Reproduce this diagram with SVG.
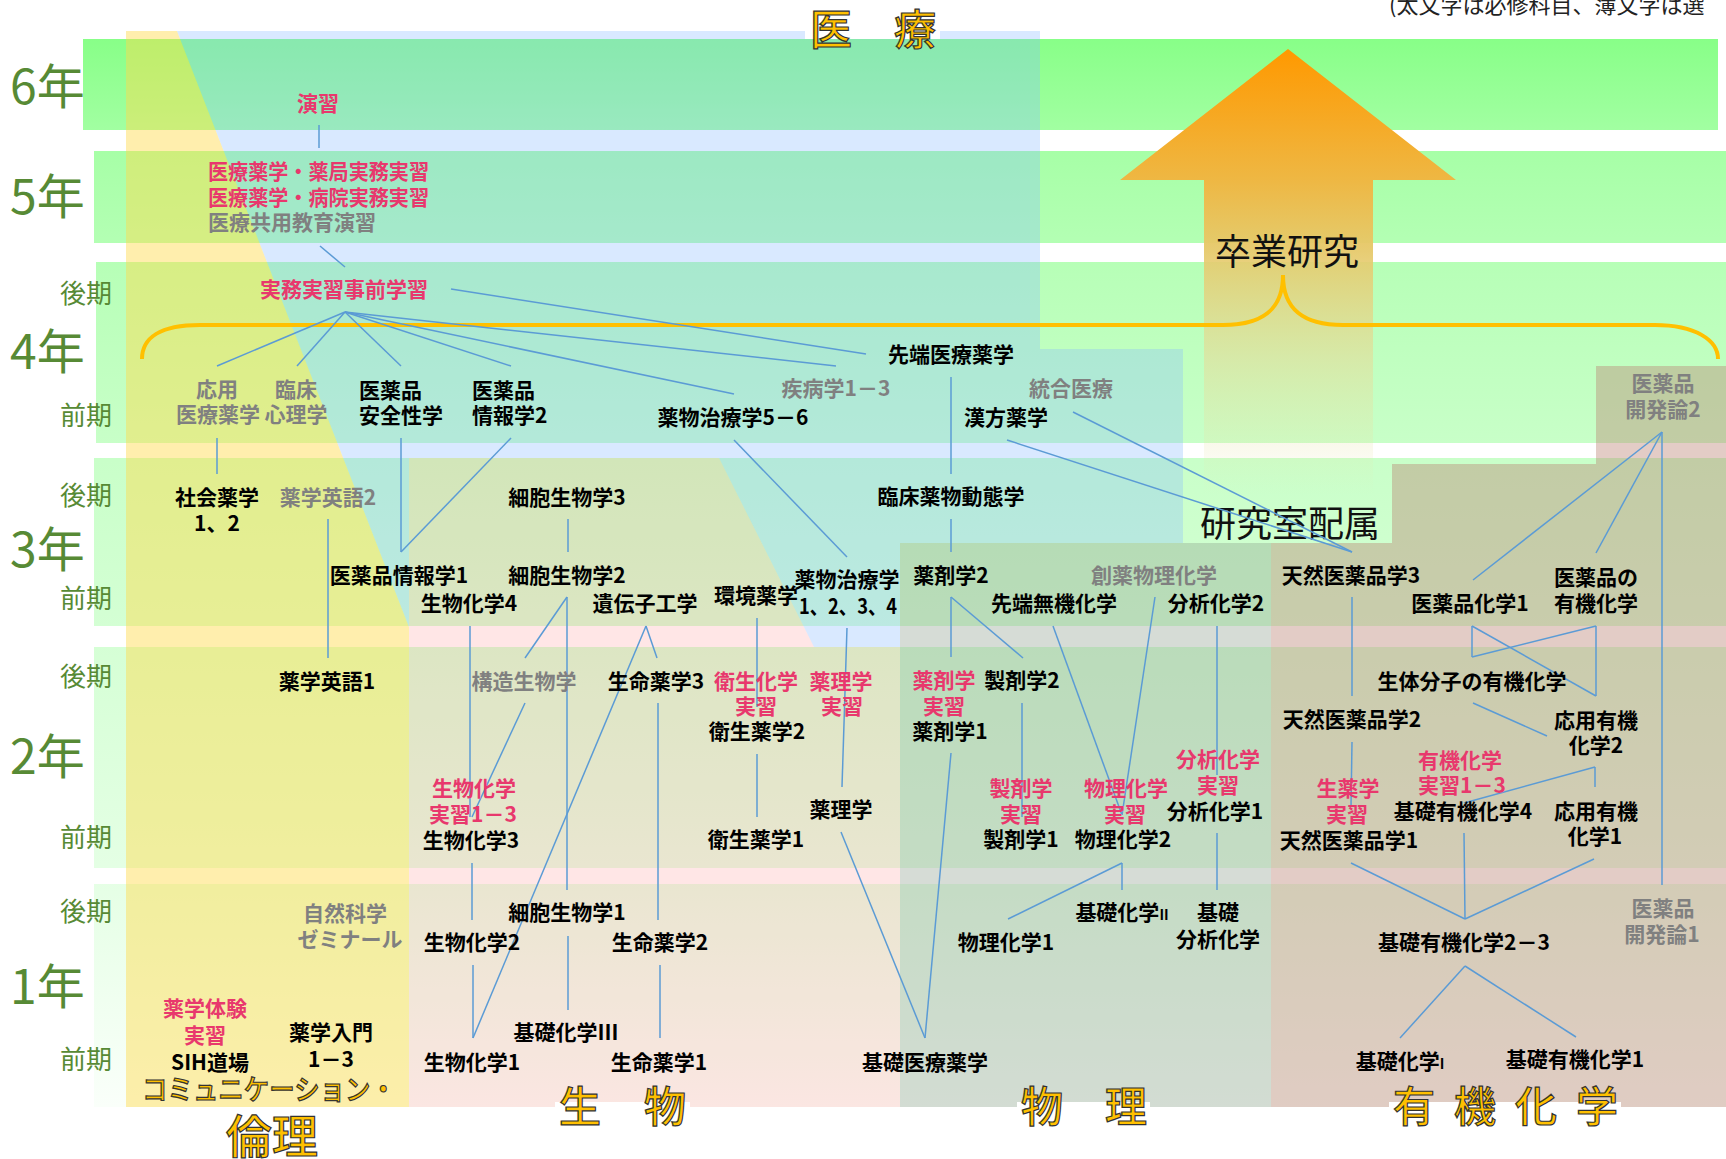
<svg xmlns="http://www.w3.org/2000/svg" width="1726" height="1159" viewBox="0 0 1726 1159">
<defs>
<linearGradient id="band" gradientUnits="userSpaceOnUse" x1="0" y1="39" x2="0" y2="1107">
<stop offset="0" stop-color="#88FF88"/>
<stop offset="0.1" stop-color="#A6FFA6"/>
<stop offset="0.22" stop-color="#B8FFB8"/>
<stop offset="0.38" stop-color="#C8FFC8"/>
<stop offset="0.58" stop-color="#D6FFD6"/>
<stop offset="0.8" stop-color="#E6FFE6"/>
<stop offset="1" stop-color="#FAFFFA"/>
</linearGradient>
<linearGradient id="arrow" gradientUnits="userSpaceOnUse" x1="0" y1="49" x2="0" y2="495">
<stop offset="0" stop-color="#FF9900"/>
<stop offset="0.3" stop-color="#EEB845"/>
<stop offset="0.45" stop-color="#E6C96A" stop-opacity="0.95"/>
<stop offset="0.7" stop-color="#E5DC9A" stop-opacity="0.6"/>
<stop offset="1" stop-color="#E8E8B0" stop-opacity="0"/>
</linearGradient>
<style>
.t{font-family:'Noto Sans CJK JP','Noto Sans CJK SC',sans-serif;font-weight:700;font-size:21px;text-anchor:middle}
.k{fill:#000}
.g{fill:#808080}
.p{fill:#E8386D}
.s{text-anchor:start}
.yr{font-family:'Noto Sans CJK JP','Noto Sans CJK SC',sans-serif;font-size:48px;fill:#578A35}
.tm{font-family:'Noto Sans CJK JP','Noto Sans CJK SC',sans-serif;font-size:26px;fill:#578A35}
.ttl{font-family:'Noto Sans CJK JP','Noto Sans CJK SC',sans-serif;font-weight:500;fill:#FFC000;stroke:#333;stroke-width:1.2}
.big{font-family:'Noto Sans CJK JP','Noto Sans CJK SC',sans-serif;font-size:36px;fill:#111}
#connectors line{stroke:#5B9BD5;stroke-width:1.5}
</style>
</defs>
<rect width="1726" height="1159" fill="#FFFFFF"/>
<g id="bands" fill="url(#band)">
<rect x="83" y="39" width="1635" height="91"/>
<rect x="94" y="151" width="1632" height="92"/>
<rect x="96" y="262" width="1630" height="181"/>
<rect x="94" y="458" width="1632" height="168"/>
<rect x="94" y="647" width="1632" height="221"/>
<rect x="94" y="884" width="1632" height="223"/>
</g>
<g id="regions">
<polygon points="126,31 177,31 409,627 409,1107 126,1107" fill="#FFDA4A" fill-opacity="0.45"/>
<polygon points="177,31 1040,31 1040,349 1183,349 1183,543 900,543 900,647 814,647 719,458 409,458 409,627" fill="#88BBFF" fill-opacity="0.32"/>
<polygon points="409,458 719,458 814,647 900,647 900,1107 409,1107" fill="#FF7777" fill-opacity="0.18"/>
<rect x="900" y="543" width="371" height="564" fill="#889988" fill-opacity="0.34"/>
<polygon points="1596,366 1726,366 1726,1107 1271,1107 1271,543 1392,543 1392,464 1596,464" fill="#B88070" fill-opacity="0.4"/>
</g>
<polygon id="arrow-shape" points="1288,49 1456,180 1373,180 1373,495 1204,495 1204,180 1120,180" fill="url(#arrow)"/>
<path id="brace" d="M142,359 C142,338 160,325 200,325 L1223,325 C1262,325 1283,310 1283,275 C1283,310 1304,325 1343,325 L1655,325 C1695,325 1718,340 1718,359" fill="none" stroke="#FFC000" stroke-width="4"/>
<g id="title-bg" fill="#FFFFFF">
<rect x="805" y="28" width="135" height="11"/>
<rect x="555" y="1102" width="135" height="57"/>
<rect x="1017" y="1102" width="133" height="57"/>
<rect x="1389" y="1102" width="232" height="57"/>
</g>
<g id="titles">
<text class="ttl" x="810" y="45" font-size="42" textLength="126" lengthAdjust="spacing">医　療</text>
<text class="ttl" x="559" y="1122" font-size="42" textLength="127" lengthAdjust="spacing">生　物</text>
<text class="ttl" x="1021" y="1122" font-size="42" textLength="126" lengthAdjust="spacing">物　理</text>
<text class="ttl" x="1393" y="1122" font-size="42" textLength="225" lengthAdjust="spacing">有 機 化 学</text>
<text class="ttl" x="142" y="1100" font-size="28" textLength="254" lengthAdjust="spacingAndGlyphs">コミュニケーション・</text>
<text class="ttl" x="226" y="1153" font-size="46" textLength="92" lengthAdjust="spacing">倫理</text>
</g>
<text id="note" x="1389" y="13" font-family="'Noto Sans CJK JP','Noto Sans CJK SC',sans-serif" font-size="22" fill="#222">(太文字は必修科目、薄文字は選</text>
<g id="years">
<text class="yr" x="10" y="104">6年</text>
<text class="yr" x="10" y="214">5年</text>
<text class="yr" x="10" y="369">4年</text>
<text class="yr" x="10" y="567">3年</text>
<text class="yr" x="10" y="774">2年</text>
<text class="yr" x="10" y="1004">1年</text>
<text class="tm" x="60" y="303">後期</text>
<text class="tm" x="60" y="425">前期</text>
<text class="tm" x="60" y="505">後期</text>
<text class="tm" x="60" y="608">前期</text>
<text class="tm" x="60" y="686">後期</text>
<text class="tm" x="60" y="847">前期</text>
<text class="tm" x="60" y="921">後期</text>
<text class="tm" x="60" y="1069">前期</text>
</g>
<text id="sotsuken" class="big" x="1287" y="265" text-anchor="middle">卒業研究</text>
<text id="haizoku" class="big" x="1290" y="537" text-anchor="middle">研究室配属</text>
<g id="connectors">
<line x1="319" y1="125" x2="319" y2="148"/>
<line x1="320" y1="246" x2="345" y2="267"/>
<line x1="345" y1="312" x2="217" y2="366"/>
<line x1="345" y1="312" x2="297" y2="366"/>
<line x1="345" y1="312" x2="401" y2="366"/>
<line x1="345" y1="312" x2="511" y2="366"/>
<line x1="345" y1="312" x2="734" y2="394"/>
<line x1="345" y1="312" x2="836" y2="366"/>
<line x1="451" y1="289" x2="866" y2="354"/>
<line x1="217" y1="438" x2="217" y2="474"/>
<line x1="328" y1="519" x2="328" y2="658"/>
<line x1="401" y1="438" x2="401" y2="552"/>
<line x1="511" y1="438" x2="401" y2="552"/>
<line x1="568" y1="519" x2="568" y2="552"/>
<line x1="567" y1="597" x2="525" y2="658"/>
<line x1="567" y1="597" x2="567" y2="890"/>
<line x1="470" y1="626" x2="470" y2="817"/>
<line x1="525" y1="703" x2="472" y2="817"/>
<line x1="646" y1="626" x2="657" y2="658"/>
<line x1="646" y1="626" x2="473" y2="1038"/>
<line x1="658" y1="703" x2="658" y2="920"/>
<line x1="660" y1="965" x2="660" y2="1038"/>
<line x1="472" y1="863" x2="472" y2="920"/>
<line x1="473" y1="965" x2="473" y2="1038"/>
<line x1="568" y1="936" x2="568" y2="1010"/>
<line x1="757" y1="618" x2="757" y2="707"/>
<line x1="757" y1="754" x2="757" y2="817"/>
<line x1="734" y1="440" x2="847" y2="557"/>
<line x1="847" y1="628" x2="842" y2="787"/>
<line x1="841" y1="832" x2="925" y2="1038"/>
<line x1="951" y1="753" x2="925" y2="1038"/>
<line x1="951" y1="377" x2="951" y2="474"/>
<line x1="951" y1="519" x2="951" y2="552"/>
<line x1="951" y1="597" x2="951" y2="657"/>
<line x1="951" y1="597" x2="1023" y2="658"/>
<line x1="1022" y1="703" x2="1022" y2="817"/>
<line x1="1053" y1="626" x2="1122" y2="815"/>
<line x1="1155" y1="597" x2="1122" y2="815"/>
<line x1="1122" y1="863" x2="1008" y2="919"/>
<line x1="1122" y1="863" x2="1122" y2="890"/>
<line x1="1217" y1="626" x2="1217" y2="775"/>
<line x1="1217" y1="833" x2="1217" y2="890"/>
<line x1="1073" y1="412" x2="1352" y2="552"/>
<line x1="1007" y1="440" x2="1352" y2="552"/>
<line x1="1352" y1="597" x2="1352" y2="696"/>
<line x1="1352" y1="742" x2="1351" y2="807"/>
<line x1="1662" y1="432" x2="1473" y2="580"/>
<line x1="1662" y1="432" x2="1596" y2="553"/>
<line x1="1662" y1="432" x2="1662" y2="885"/>
<line x1="1472" y1="626" x2="1472" y2="657"/>
<line x1="1472" y1="626" x2="1596" y2="696"/>
<line x1="1596" y1="626" x2="1596" y2="696"/>
<line x1="1596" y1="626" x2="1472" y2="657"/>
<line x1="1473" y1="703" x2="1547" y2="736"/>
<line x1="1595" y1="767" x2="1464" y2="803"/>
<line x1="1595" y1="767" x2="1595" y2="787"/>
<line x1="1351" y1="863" x2="1465" y2="919"/>
<line x1="1464" y1="833" x2="1465" y2="919"/>
<line x1="1594" y1="859" x2="1465" y2="919"/>
<line x1="1465" y1="966" x2="1400" y2="1038"/>
<line x1="1465" y1="966" x2="1576" y2="1037"/>
</g>
<g id="n-enshu"><text class="t p" x="318" y="111">演習</text></g>
<g id="n-yakkyoku"><text class="t p s" x="208" y="179" textLength="221" lengthAdjust="spacingAndGlyphs">医療薬学・薬局実務実習</text></g>
<g id="n-byouin"><text class="t p s" x="208" y="205" textLength="221" lengthAdjust="spacingAndGlyphs">医療薬学・病院実務実習</text></g>
<g id="n-kyouyou"><text class="t g s" x="208" y="230">医療共用教育演習</text></g>
<g id="n-jizen"><text class="t p" x="344" y="297">実務実習事前学習</text></g>
<g id="n-sentan-iryou"><text class="t k" x="951" y="362">先端医療薬学</text></g>
<g id="n-ouyou-iryou"><text class="t g"><tspan x="217" y="397">応用</tspan><tspan x="218" y="422">医療薬学</tspan></text></g>
<g id="n-rinshou-shinri"><text class="t g"><tspan x="296" y="397">臨床</tspan><tspan x="296" y="422">心理学</tspan></text></g>
<g id="n-anzensei"><text class="t k s"><tspan x="359" y="398">医薬品</tspan><tspan x="359" y="423">安全性学</tspan></text></g>
<g id="n-jouhou2"><text class="t k s"><tspan x="472" y="398">医薬品</tspan><tspan x="472" y="423">情報学2</tspan></text></g>
<g id="n-shippei"><text class="t g" x="836" y="396">疾病学1－3</text></g>
<g id="n-tougou"><text class="t g" x="1071" y="396">統合医療</text></g>
<g id="n-chiryou56"><text class="t k" x="733" y="425">薬物治療学5－6</text></g>
<g id="n-kampo"><text class="t k" x="1006" y="425">漢方薬学</text></g>
<g id="n-shakai"><text class="t k"><tspan x="217" y="505">社会薬学</tspan><tspan x="217" y="531">1、2</tspan></text></g>
<g id="n-eigo2"><text class="t g" x="328" y="505">薬学英語2</text></g>
<g id="n-saibou3"><text class="t k" x="567" y="505">細胞生物学3</text></g>
<g id="n-dotai"><text class="t k" x="951" y="504">臨床薬物動態学</text></g>
<g id="n-jouhou1"><text class="t k" x="399" y="583">医薬品情報学1</text></g>
<g id="n-saibou2"><text class="t k" x="567" y="583">細胞生物学2</text></g>
<g id="n-yakuzai2"><text class="t k" x="951" y="583">薬剤学2</text></g>
<g id="n-souyaku"><text class="t g" x="1154" y="583">創薬物理化学</text></g>
<g id="n-tennen3"><text class="t k" x="1351" y="583">天然医薬品学3</text></g>
<g id="n-iyaku-yuuki"><text class="t k"><tspan x="1596" y="585">医薬品の</tspan><tspan x="1596" y="611">有機化学</tspan></text></g>
<g id="n-chiryou14"><text class="t k"><tspan x="847" y="587">薬物治療学</tspan></text><text class="t k s" x="799" y="614" textLength="98" lengthAdjust="spacingAndGlyphs">1、2、3、4</text></g>
<g id="n-kankyou"><text class="t k" x="756" y="603">環境薬学</text></g>
<g id="n-seika4"><text class="t k" x="469" y="611">生物化学4</text></g>
<g id="n-idenshi"><text class="t k" x="645" y="611">遺伝子工学</text></g>
<g id="n-muki"><text class="t k" x="1054" y="611">先端無機化学</text></g>
<g id="n-bunseki2"><text class="t k" x="1216" y="611">分析化学2</text></g>
<g id="n-iyakuhin1"><text class="t k" x="1470" y="611">医薬品化学1</text></g>
<g id="n-kaihatsu2"><text class="t g"><tspan x="1663" y="391">医薬品</tspan><tspan x="1663" y="417">開発論2</tspan></text></g>
<g id="n-eigo1"><text class="t k" x="327" y="689">薬学英語1</text></g>
<g id="n-kouzou"><text class="t g" x="524" y="689">構造生物学</text></g>
<g id="n-seimei3"><text class="t k" x="656" y="689">生命薬学3</text></g>
<g id="n-eisei-jisshu"><text class="t p"><tspan x="756" y="689">衛生化学</tspan><tspan x="756" y="714">実習</tspan></text></g>
<g id="n-yakuri-jisshu"><text class="t p"><tspan x="841" y="689">薬理学</tspan><tspan x="842" y="714">実習</tspan></text></g>
<g id="n-yakuzai-jisshu"><text class="t p"><tspan x="944" y="688">薬剤学</tspan><tspan x="944" y="714">実習</tspan></text></g>
<g id="n-seizai2"><text class="t k" x="1022" y="688">製剤学2</text></g>
<g id="n-seitai"><text class="t k" x="1472" y="689">生体分子の有機化学</text></g>
<g id="n-eisei2"><text class="t k" x="757" y="739">衛生薬学2</text></g>
<g id="n-yakuzai1"><text class="t k" x="950" y="739">薬剤学1</text></g>
<g id="n-tennen2"><text class="t k" x="1352" y="727">天然医薬品学2</text></g>
<g id="n-ouyou-yuuki2"><text class="t k"><tspan x="1596" y="728">応用有機</tspan><tspan x="1596" y="753">化学2</tspan></text></g>
<g id="n-bunseki-jisshu"><text class="t p"><tspan x="1218" y="767">分析化学</tspan><tspan x="1218" y="793">実習</tspan></text></g>
<g id="n-yuuki-jisshu"><text class="t p"><tspan x="1460" y="768">有機化学</tspan><tspan x="1462" y="793">実習1－3</tspan></text></g>
<g id="n-seika-jisshu"><text class="t p"><tspan x="474" y="796">生物化学</tspan><tspan x="473" y="822">実習1－3</tspan></text></g>
<g id="n-seizai-jisshu"><text class="t p"><tspan x="1021" y="796">製剤学</tspan><tspan x="1021" y="822">実習</tspan></text></g>
<g id="n-butsuri-jisshu"><text class="t p"><tspan x="1126" y="796">物理化学</tspan><tspan x="1125" y="822">実習</tspan></text></g>
<g id="n-shouyaku-jisshu"><text class="t p"><tspan x="1348" y="796">生薬学</tspan><tspan x="1347" y="822">実習</tspan></text></g>
<g id="n-yakuri"><text class="t k" x="841" y="817">薬理学</text></g>
<g id="n-bunseki1"><text class="t k" x="1215" y="819">分析化学1</text></g>
<g id="n-kiso-yuuki4"><text class="t k" x="1463" y="819">基礎有機化学4</text></g>
<g id="n-ouyou-yuuki1"><text class="t k"><tspan x="1596" y="819">応用有機</tspan><tspan x="1595" y="844">化学1</tspan></text></g>
<g id="n-seika3"><text class="t k" x="471" y="848">生物化学3</text></g>
<g id="n-eisei1"><text class="t k" x="756" y="847">衛生薬学1</text></g>
<g id="n-seizai1"><text class="t k" x="1021" y="847">製剤学1</text></g>
<g id="n-butsuri2"><text class="t k" x="1123" y="847">物理化学2</text></g>
<g id="n-tennen1"><text class="t k" x="1349" y="848">天然医薬品学1</text></g>
<g id="n-shizen"><text class="t g"><tspan x="345" y="921">自然科学</tspan><tspan x="350" y="947">ゼミナール</tspan></text></g>
<g id="n-saibou1"><text class="t k" x="567" y="920">細胞生物学1</text></g>
<g id="n-kiso2"><text class="t k" x="1122" y="920">基礎化学<tspan font-size="14">II</tspan></text></g>
<g id="n-kiso-bunseki"><text class="t k"><tspan x="1218" y="920">基礎</tspan><tspan x="1218" y="947">分析化学</tspan></text></g>
<g id="n-kaihatsu1"><text class="t g"><tspan x="1663" y="916">医薬品</tspan><tspan x="1662" y="942">開発論1</tspan></text></g>
<g id="n-seika2"><text class="t k" x="472" y="950">生物化学2</text></g>
<g id="n-seimei2"><text class="t k" x="660" y="950">生命薬学2</text></g>
<g id="n-butsuri1"><text class="t k" x="1006" y="950">物理化学1</text></g>
<g id="n-kiso-yuuki23"><text class="t k" x="1464" y="950">基礎有機化学2－3</text></g>
<g id="n-taiken"><text class="t p"><tspan x="205" y="1016">薬学体験</tspan><tspan x="205" y="1043">実習</tspan></text></g>
<g id="n-nyumon"><text class="t k"><tspan x="331" y="1040">薬学入門</tspan><tspan x="331" y="1067">1－3</tspan></text></g>
<g id="n-kiso3"><text class="t k" x="566" y="1040">基礎化学Ⅲ</text></g>
<g id="n-sih"><text class="t k" x="210" y="1070" font-size="19">SIH道場</text></g>
<g id="n-seika1"><text class="t k" x="472" y="1070">生物化学1</text></g>
<g id="n-seimei1"><text class="t k" x="659" y="1070">生命薬学1</text></g>
<g id="n-kiso-iryou"><text class="t k" x="925" y="1070">基礎医療薬学</text></g>
<g id="n-kiso1"><text class="t k" x="1400" y="1069">基礎化学<tspan font-size="14">I</tspan></text></g>
<g id="n-kiso-yuuki1"><text class="t k" x="1575" y="1067">基礎有機化学1</text></g>
</svg>
